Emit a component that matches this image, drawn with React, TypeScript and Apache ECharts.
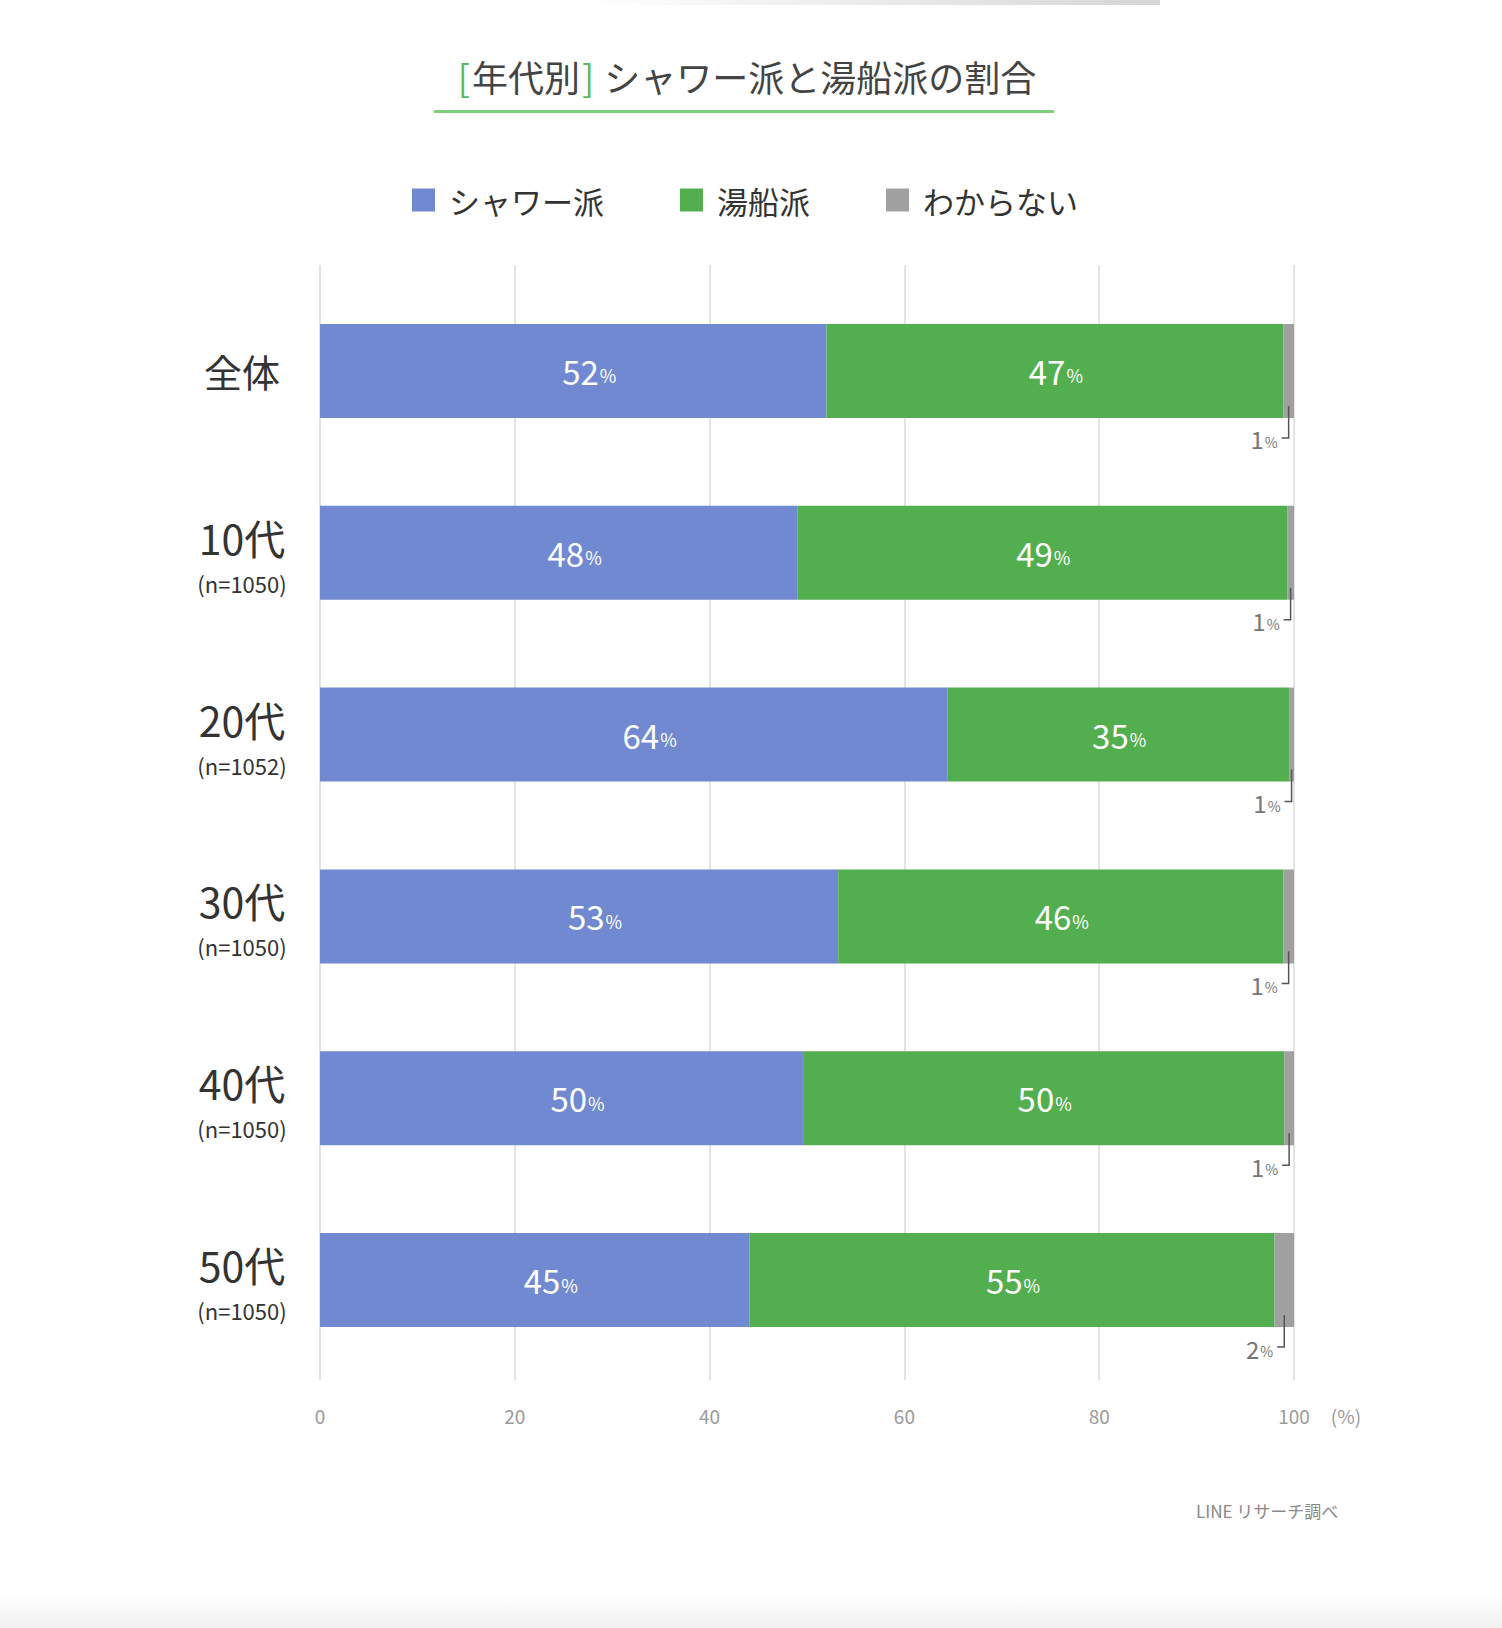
import React, { useEffect, useRef } from "react";
import * as echarts from "echarts";

const categories = ["全体", "10代", "20代", "30代", "40代", "50代"];
const sampleSizes = ["", "(n=1050)", "(n=1052)", "(n=1050)", "(n=1050)", "(n=1050)"];
const seriesNames = ["シャワー派", "湯船派", "わからない"];
// bar lengths as drawn (percent)
const showerValues = [52.0, 49.0, 64.4, 53.2, 49.6, 44.1];
const bathValues = [46.9, 50.3, 35.1, 45.7, 49.4, 53.9];
const unknownValues = [1.1, 0.7, 0.5, 1.1, 1.0, 2.0];
// printed percentages
const showerLabels = [52, 48, 64, 53, 50, 45];
const bathLabels = [47, 49, 35, 46, 50, 55];
const unknownLabels = [1, 1, 1, 1, 1, 2];
const xMin = 0;
const xMax = 100;
const xInterval = 20;

const FONT = '"Noto Sans CJK JP", "Noto Sans", sans-serif';
const BLUE = "#7189d0";
const GREEN = "#52ae4e";
const GRAY = "#a0a0a0";
const BAR_H = 94;

export default function App() {
  const ref = useRef<HTMLDivElement>(null);
  useEffect(() => {
    if (!ref.current) return;
    const chart = echarts.init(ref.current, null, { renderer: "svg" });
    const pctRich = (size: number, psize: number, color: string) => ({
      n: { fontSize: size, color, fontFamily: FONT, lineHeight: size, verticalAlign: "bottom" },
      p: {
        fontSize: psize,
        color,
        fontFamily: FONT,
        lineHeight: psize,
        verticalAlign: "bottom",
        padding: [0, 0, Math.round(size * 0.1), 1],
      },
    });
    const option: any = {
      animation: false,
      backgroundColor: "#ffffff",
      textStyle: { fontFamily: FONT },
      legend: {
        data: seriesNames,
        left: 407,
        top: 177,
        icon: "rect",
        itemWidth: 23,
        itemHeight: 23,
        itemGap: 76,
        selectedMode: false,
        textStyle: { fontSize: 31, color: "#333", fontFamily: FONT, padding: [0, 0, 0, 9], lineHeight: 36 },
      },
      grid: [
        { left: 320, width: 974, top: 265, height: 1115 },
        { left: 320, width: 974, top: 280, height: 1091 },
      ],
      xAxis: [
        {
          gridIndex: 0,
          type: "value",
          min: xMin,
          max: xMax,
          interval: xInterval,
          axisLine: { show: false },
          axisTick: { show: false },
          splitLine: { show: true, lineStyle: { color: "#e4e4e4", width: 2 } },
          axisLabel: { fontSize: 19, color: "#9a9a9a", margin: 26, fontFamily: FONT },
        },
        {
          gridIndex: 1,
          type: "value",
          min: xMin,
          max: xMax,
          show: false,
        },
      ],
      yAxis: [
        { gridIndex: 0, type: "value", min: 0, max: 1, show: false },
        {
          gridIndex: 1,
          type: "category",
          data: categories,
          inverse: true,
          axisLine: { show: false },
          axisTick: { show: false },
          splitLine: { show: false },
          axisLabel: {
            margin: 78,
            align: "center",
            formatter: (v: string, i: number) =>
              sampleSizes[i] ? `{big|${v}}\n{small|${sampleSizes[i]}}` : `{big1|${v}}`,
            rich: {
              big1: { fontSize: 38, color: "#333", fontFamily: FONT, lineHeight: 50, align: "center" },
              big: { fontSize: 41, color: "#333", fontFamily: FONT, lineHeight: 60, align: "center" },
              small: { fontSize: 22, color: "#333", fontFamily: FONT, lineHeight: 32, align: "center" },
            },
          },
        },
      ],
      series: [
        {
          name: seriesNames[0],
          type: "bar",
          stack: "total",
          xAxisIndex: 1,
          yAxisIndex: 1,
          barWidth: BAR_H,
          itemStyle: { color: BLUE },
          data: showerValues,
          label: {
            show: true,
            position: "inside",
            offset: [16, 0],
            formatter: (p: any) => `{n|${showerLabels[p.dataIndex]}}{p|%}`,
            rich: pctRich(33, 18, "#ffffff"),
          },
        },
        {
          name: seriesNames[1],
          type: "bar",
          stack: "total",
          xAxisIndex: 1,
          yAxisIndex: 1,
          barWidth: BAR_H,
          itemStyle: { color: GREEN },
          data: bathValues,
          label: {
            show: true,
            position: "inside",
            offset: [1, 0],
            formatter: (p: any) => `{n|${bathLabels[p.dataIndex]}}{p|%}`,
            rich: pctRich(33, 18, "#ffffff"),
          },
        },
        {
          name: seriesNames[2],
          type: "bar",
          stack: "total",
          xAxisIndex: 1,
          yAxisIndex: 1,
          barWidth: BAR_H,
          itemStyle: { color: GRAY },
          data: unknownValues,
        },
        {
          type: "custom",
          xAxisIndex: 1,
          yAxisIndex: 1,
          clip: false,
          silent: true,
          z: 5,
          data: categories.map((_, i) => [
            showerValues[i] + bathValues[i] + unknownValues[i] / 2,
            i,
            unknownLabels[i],
          ]),
          renderItem: (params: any, api: any) => {
            const pt = api.coord([api.value(0), api.value(1)]);
            const x = pt[0];
            const yb = pt[1] + BAR_H / 2;
            return {
              type: "group",
              children: [
                {
                  type: "polyline",
                  shape: { points: [[x, yb - 12], [x, yb + 20], [x - 7, yb + 20]] },
                  style: { stroke: "#555", lineWidth: 1.5, fill: null },
                },
                {
                  type: "text",
                  x: x - 11,
                  y: yb + 21,
                  style: {
                    text: `{n|${api.value(2)}}{p|%}`,
                    align: "right",
                    verticalAlign: "middle",
                    rich: {
                      n: { fontSize: 24, fill: "#777", fontFamily: FONT, lineHeight: 24, verticalAlign: "bottom" },
                      p: {
                        fontSize: 14,
                        fill: "#777",
                        fontFamily: FONT,
                        lineHeight: 14,
                        verticalAlign: "bottom",
                        padding: [0, 0, 2, 1],
                      },
                    },
                  },
                },
              ],
            };
          },
        },
      ],
      graphic: [
        {
          type: "rect",
          shape: { x: 580, y: 0, width: 580, height: 5 },
          style: {
            fill: new echarts.graphic.LinearGradient(0, 0, 1, 0, [
              { offset: 0, color: "rgba(215,215,215,0)" },
              { offset: 1, color: "#d6d6d6" },
            ]),
          },
          silent: true,
        },
        {
          type: "rect",
          shape: { x: 0, y: 1596, width: 1502, height: 32 },
          style: {
            fill: new echarts.graphic.LinearGradient(0, 0, 0, 1, [
              { offset: 0, color: "rgba(240,240,240,0)" },
              { offset: 1, color: "#efefef" },
            ]),
          },
          silent: true,
        },
        {
          type: "text",
          x: 746,
          y: 76,
          style: {
            text: "{g|[}{t|年代別}{g|]}{t| シャワー派と湯船派の割合}",
            align: "center",
            verticalAlign: "middle",
            rich: {
              g: { fontSize: 36, fill: "#5cba5c", fontFamily: FONT, padding: [0, 2, 0, 2] },
              t: { fontSize: 36, fill: "#444", fontFamily: FONT },
            },
          },
        },
        {
          type: "rect",
          shape: { x: 434, y: 110, width: 620, height: 3 },
          style: { fill: "#7dcf7d" },
        },
        {
          type: "text",
          x: 1346,
          y: 1415,
          style: {
            text: "(%)",
            align: "center",
            verticalAlign: "middle",
            fontSize: 19,
            fill: "#9a9a9a",
            fontFamily: FONT,
          },
        },
        {
          type: "text",
          x: 1196,
          y: 1510,
          style: {
            text: "LINE リサーチ調べ",
            align: "left",
            verticalAlign: "middle",
            fontSize: 17,
            fill: "#888",
            fontFamily: FONT,
          },
        },
      ],
    };
    chart.setOption(option);
    return () => chart.dispose();
  }, []);
  return (
    <div
      ref={ref}
      style={{ position: "absolute", left: 0, top: 0, width: 1502, height: 1628 }}
    />
  );
}
